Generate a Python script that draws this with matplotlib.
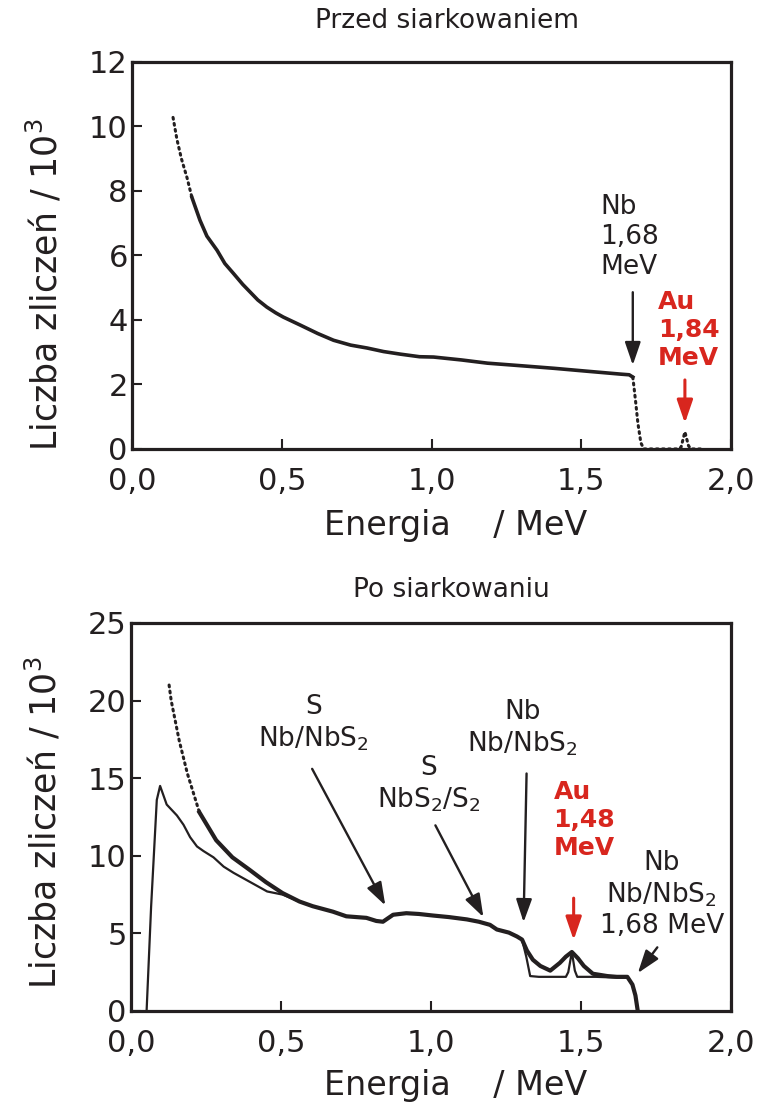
import numpy as np
import matplotlib
matplotlib.use("Agg")
import matplotlib.pyplot as plt

plt.rcParams['font.family'] = ['DejaVu Sans']
plt.rcParams['mathtext.fontset'] = 'dejavusans'

# --- data ---
# top panel: before sulfurisation
top_energy = [0.137, 0.15, 0.165, 0.184, 0.2, 0.227, 0.25, 0.284, 0.31, 0.338, 0.37, 0.395,
              0.42, 0.45, 0.48, 0.505, 0.562, 0.62, 0.673, 0.73, 0.785, 0.84, 0.896, 0.96,
              1.007, 1.1, 1.187, 1.3, 1.41, 1.52, 1.632, 1.66, 1.672, 1.676, 1.682, 1.689,
              1.699, 1.709, 1.75, 1.8, 1.825, 1.833, 1.846, 1.858, 1.866, 1.9]
top_counts = [10.28, 9.6, 9.0, 8.4, 7.8, 7.09, 6.6, 6.16, 5.75, 5.45, 5.1, 4.86,
              4.62, 4.40, 4.22, 4.09, 3.84, 3.58, 3.37, 3.22, 3.13, 3.02, 2.94, 2.86,
              2.85, 2.76, 2.66, 2.58, 2.5, 2.41, 2.32, 2.3, 2.23, 1.92, 1.42, 0.8,
              0.19, 0.0, 0.0, 0.0, 0.0, 0.05, 0.53, 0.1, 0.0, 0.0]

# bottom panel: after sulfurisation, measured (dots)
meas_energy = [0.127, 0.134, 0.161, 0.188, 0.228, 0.284, 0.338, 0.395, 0.45, 0.505, 0.562,
               0.606, 0.673, 0.718, 0.785, 0.818, 0.84, 0.874, 0.918, 0.96, 1.007, 1.06,
               1.12, 1.16, 1.197, 1.22, 1.26, 1.287, 1.304, 1.32, 1.34, 1.365, 1.398, 1.43,
               1.45, 1.47, 1.49, 1.51, 1.54, 1.588, 1.62, 1.655, 1.672, 1.682, 1.689]
meas_counts = [21.0, 20.0, 17.4, 15.3, 12.8, 11.0, 9.9, 9.1, 8.3, 7.6, 7.05,
               6.75, 6.4, 6.1, 6.0, 5.8, 5.75, 6.2, 6.3, 6.25, 6.15, 6.05,
               5.9, 5.75, 5.55, 5.25, 5.05, 4.8, 4.6, 3.9, 3.3, 2.9, 2.6, 3.1,
               3.5, 3.8, 3.4, 2.9, 2.4, 2.25, 2.2, 2.2, 1.7, 1.0, 0.1]

# bottom panel: simulation (thin line)
sim_energy = [0.052, 0.067, 0.086, 0.097, 0.119, 0.153, 0.175, 0.197, 0.22, 0.242, 0.275,
              0.309, 0.342, 0.398, 0.454, 0.505, 0.562, 0.606, 0.673, 0.718, 0.785, 0.818,
              0.84, 0.874, 0.918, 0.96, 1.007, 1.06, 1.12, 1.16, 1.197, 1.22, 1.26, 1.287,
              1.304, 1.318, 1.331, 1.36, 1.45, 1.458, 1.47, 1.48, 1.488, 1.55, 1.62, 1.655,
              1.672, 1.682, 1.689]
sim_counts = [0.0, 6.7, 13.6, 14.5, 13.3, 12.6, 12.0, 11.2, 10.6, 10.3, 9.9,
              9.3, 8.9, 8.3, 7.7, 7.5, 7.05, 6.75, 6.4, 6.1, 6.0, 5.8,
              5.75, 6.2, 6.3, 6.25, 6.15, 6.05, 5.9, 5.75, 5.55, 5.25, 5.05, 4.8,
              4.6, 3.5, 2.25, 2.2, 2.2, 2.5, 3.8, 2.6, 2.2, 2.2, 2.15, 2.15,
              1.7, 1.0, 0.0]

x_ticks = [0.0, 0.5, 1.0, 1.5, 2.0]
x_tick_labels = ['0,0', '0,5', '1,0', '1,5', '2,0']
top_yticks = [0, 2, 4, 6, 8, 10, 12]
bot_yticks = [0, 5, 10, 15, 20, 25]

ink = '#231f20'
red = '#d8261e'

fig = plt.figure(figsize=(7.67, 11.16), dpi=100)
ax1 = fig.add_axes([0.1721, 0.5977, 0.781, 0.3468])
ax2 = fig.add_axes([0.1708, 0.0941, 0.782, 0.3477])

for ax, yt in ((ax1, top_yticks), (ax2, bot_yticks)):
    for s in ax.spines.values():
        s.set_linewidth(2.3)
        s.set_color(ink)
    ax.set_xlim(0, 2.0)
    ax.set_xticks(x_ticks)
    ax.set_xticklabels(x_tick_labels)
    ax.set_yticks(yt)
    ax.set_ylim(yt[0], yt[-1])
    ax.tick_params(direction='in', length=7, width=1.5, labelsize=22, colors=ink)
    ax.tick_params(axis='x', pad=13)
    ax.tick_params(axis='y', pad=3)
    ax.set_xlabel('Energia    / MeV', fontsize=24, color=ink)
    ax.set_ylabel('Liczba zliczeń / 10$^3$', fontsize=25, color=ink)

ax1.xaxis.set_label_coords(0.541, -0.155)
ax2.xaxis.set_label_coords(0.541, -0.15)
ax1.yaxis.set_label_coords(-0.113, 0.425)
ax2.yaxis.set_label_coords(-0.113, 0.485)

# top curve
E1 = np.array(top_energy)
c1 = np.array(top_counts)
solid = (E1 >= 0.2) & (E1 <= 1.672)
ax1.plot(E1[solid], c1[solid], color=ink, lw=2.6)
dots = dict(color=ink, lw=2.2, ls=(0, (0.6, 1.4)), dash_capstyle='round')
ax1.plot(E1[E1 <= 0.2], c1[E1 <= 0.2], **dots)
ax1.plot(E1[E1 >= 1.672], c1[E1 >= 1.672], **dots)

# bottom curves
E2 = np.array(meas_energy)
c2 = np.array(meas_counts)
ax2.plot(sim_energy, sim_counts, color=ink, lw=1.6)
ax2.plot(E2[E2 >= 0.228], c2[E2 >= 0.228], color=ink, lw=3.0)
ax2.plot(E2[E2 <= 0.228], c2[E2 <= 0.228], **dots)

arrow_k = dict(arrowstyle='-|>,head_length=0.7,head_width=0.24', color=ink, lw=1.7,
               mutation_scale=20, shrinkA=0, shrinkB=0)
arrow_r = dict(arrow_k, color=red, lw=2.2)

txt = dict(fontsize=19, color=ink, linespacing=1.2)
red_txt = dict(fontsize=18, fontweight='bold', color=red, linespacing=1.22)

# top annotations
ax1.text(1.563, 6.57, 'Nb\n1,68\nMeV', ha='left', va='center', **txt)
ax1.annotate('', xy=(1.672, 2.6), xytext=(1.672, 4.86), arrowprops=arrow_k)
ax1.text(1.756, 3.69, 'Au\n1,84\nMeV', ha='left', va='center', **red_txt)
ax1.annotate('', xy=(1.846, 0.8), xytext=(1.846, 2.14), arrowprops=arrow_r)

# bottom annotations
ax2.text(0.608, 18.5, 'S\nNb/NbS$_2$', ha='center', va='center', multialignment='center', **txt)
ax2.annotate('', xy=(0.848, 6.8), xytext=(0.604, 15.6), arrowprops=arrow_k)
ax2.text(0.992, 14.6, 'S\nNbS$_2$/S$_2$', ha='center', va='center', multialignment='center', **txt)
ax2.annotate('', xy=(1.175, 6.05), xytext=(1.015, 11.96), arrowprops=arrow_k)
ax2.text(1.306, 18.2, 'Nb\nNb/NbS$_2$', ha='center', va='center', multialignment='center', **txt)
ax2.annotate('', xy=(1.309, 5.72), xytext=(1.319, 15.3), arrowprops=arrow_k)
ax2.text(1.409, 12.3, 'Au\n1,48\nMeV', ha='left', va='center', **red_txt)
ax2.annotate('', xy=(1.476, 4.57), xytext=(1.476, 7.27), arrowprops=arrow_r)
ax2.text(1.77, 7.5, 'Nb\nNb/NbS$_2$\n1,68 MeV', ha='center', va='center',
         multialignment='center', **txt)
ax2.annotate('', xy=(1.69, 2.44), xytext=(1.755, 4.1), arrowprops=arrow_k)

fig.text(0.583, 0.981, 'Przed siarkowaniem', ha='center', va='center', fontsize=19, color=ink)
fig.text(0.588, 0.4713, 'Po siarkowaniu', ha='center', va='center', fontsize=19, color=ink)

fig.savefig('out.png', dpi=100)
